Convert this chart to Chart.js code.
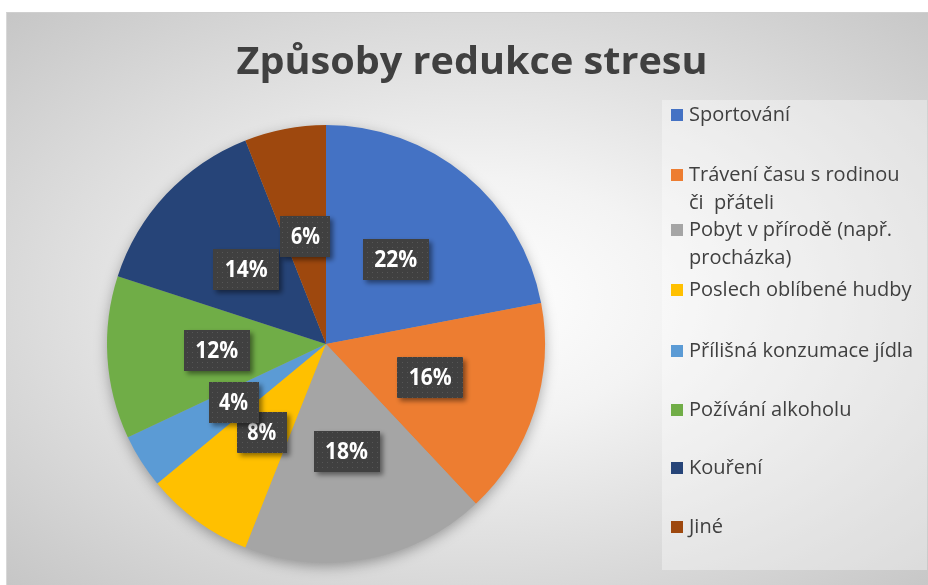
<!DOCTYPE html>
<html>
<head>
<meta charset="utf-8">
<script src="https://cdn.jsdelivr.net/npm/chart.js@4/dist/chart.umd.min.js"></script>
<style>
  body { margin: 0; background: #fff; }
  #bg {
    position: absolute; left: 6px; top: 12px; width: 921px; height: 572px;
    border-top: 1px solid #cfcfcf; border-left: 1px solid #d8d8d8;
    background: radial-gradient(ellipse farthest-corner at 51% 50%, #ffffff 0%, #f3f3f3 30%, #c6c6c6 100%);
  }
  #wrap { position: absolute; left: 0; top: 0; width: 928px; height: 585px; }
</style>
</head>
<body>
<div id="bg"></div>
<div id="wrap"><canvas id="chart"></canvas></div>
<script>
const chartTitle = "Způsoby redukce stresu";
const categories = [
  "Sportování",
  "Trávení času s rodinou\nči  přáteli",
  "Pobyt v přírodě (např.\nprocházka)",
  "Poslech oblíbené hudby",
  "Přílišná konzumace jídla",
  "Požívání alkoholu",
  "Kouření",
  "Jiné"
];
const shares = [22, 16, 18, 8, 4, 12, 14, 6];
const colors = ["#4472C4", "#ED7D31", "#A5A5A5", "#FFC000", "#5B9BD5", "#70AD47", "#264478", "#9E480E"];

// dotted dark fill used by the data label boxes
function makeDots() {
  const c = document.createElement("canvas");
  c.width = 5; c.height = 5;
  const g = c.getContext("2d");
  g.fillStyle = "#404040";
  g.fillRect(0, 0, 5, 5);
  g.fillStyle = "#565656";
  g.fillRect(2, 2, 1, 1);
  return c;
}
const dots = makeDots();

// soft shadow under the whole pie
const pieShadow = {
  id: "pieShadow",
  beforeDatasetsDraw(chart) {
    const arc = chart.getDatasetMeta(0).data[0];
    if (!arc) return;
    const ctx = chart.ctx;
    ctx.save();
    ctx.shadowColor = "rgba(0,0,0,0.35)";
    ctx.shadowBlur = 14;
    ctx.shadowOffsetY = 4;
    ctx.fillStyle = "#a0a0a0";
    ctx.beginPath();
    ctx.arc(arc.x, arc.y, arc.outerRadius - 1, 0, Math.PI * 2);
    ctx.fill();
    ctx.restore();
  }
};

// percent labels in dark boxes
const valueBoxes = {
  id: "valueBoxes",
  afterDatasetsDraw(chart) {
    const ctx = chart.ctx;
    const total = shares.reduce((a, b) => a + b, 0);
    const pattern = ctx.createPattern(dots, "repeat");
    chart.getDatasetMeta(0).data.forEach((arc, i) => {
      const p = arc.tooltipPosition();
      const txt = Math.round(shares[i] / total * 100) + "%";
      const w = txt.length > 2 ? 66 : 50, h = 41;
      ctx.save();
      ctx.shadowColor = "rgba(0,0,0,0.45)";
      ctx.shadowBlur = 5;
      ctx.shadowOffsetX = 3;
      ctx.shadowOffsetY = 3;
      ctx.fillStyle = pattern;
      ctx.fillRect(Math.round(p.x - w / 2), Math.round(p.y - h / 2), w, h);
      ctx.restore();
      ctx.save();
      ctx.font = "bold 23px 'Open Sans'";
      ctx.fillStyle = "#ffffff";
      ctx.textBaseline = "middle";
      const tw = ctx.measureText(txt).width;
      ctx.translate(p.x, p.y + 1);
      ctx.scale(Math.min(1, (txt.length > 2 ? 43 : 29) / tw), 1);
      ctx.textAlign = "center";
      ctx.fillText(txt, 0, 0);
      ctx.restore();
    });
  }
};

// title and legend drawn by hand to follow the reference layout
const rowY = [115, 175, 230, 290, 351, 410, 468, 527];
const titleLegend = {
  id: "titleLegend",
  afterDraw(chart) {
    const ctx = chart.ctx;
    ctx.save();
    ctx.font = "bold 37px 'Open Sans'";
    ctx.fillStyle = "#404040";
    ctx.textBaseline = "alphabetic";
    const tw = ctx.measureText(chartTitle).width;
    ctx.translate(472, 74);
    ctx.scale(471 / tw, 1);
    ctx.textAlign = "center";
    ctx.fillText(chartTitle, 0, 0);
    ctx.restore();

    ctx.save();
    ctx.fillStyle = "rgba(255,255,255,0.35)";
    ctx.fillRect(662, 100, 265, 470);
    ctx.font = "20px 'Open Sans'";
    ctx.textBaseline = "middle";
    categories.forEach((name, i) => {
      const y = rowY[i];
      ctx.fillStyle = colors[i];
      ctx.fillRect(671, y - 6, 12, 12);
      ctx.fillStyle = "#404040";
      name.split("\n").forEach((line, k) => {
        const lw = ctx.measureText(line).width;
        ctx.save();
        ctx.translate(689, y + k * 28);
        ctx.scale(Math.min(1, 236 / lw), 1);
        ctx.fillText(line, 0, 0);
        ctx.restore();
      });
    });
    ctx.restore();
  }
};

new Chart(document.getElementById("chart"), {
  type: "pie",
  data: {
    labels: categories,
    datasets: [{
      data: shares,
      backgroundColor: colors,
      borderWidth: 0
    }]
  },
  options: {
    responsive: true,
    maintainAspectRatio: false,
    animation: false,
    layout: { padding: { left: 107, right: 383, top: 125, bottom: 22 } },
    plugins: {
      legend: { display: false },
      title: { display: false },
      tooltip: { enabled: false }
    }
  },
  plugins: [pieShadow, valueBoxes, titleLegend]
});
</script>
</body>
</html>
